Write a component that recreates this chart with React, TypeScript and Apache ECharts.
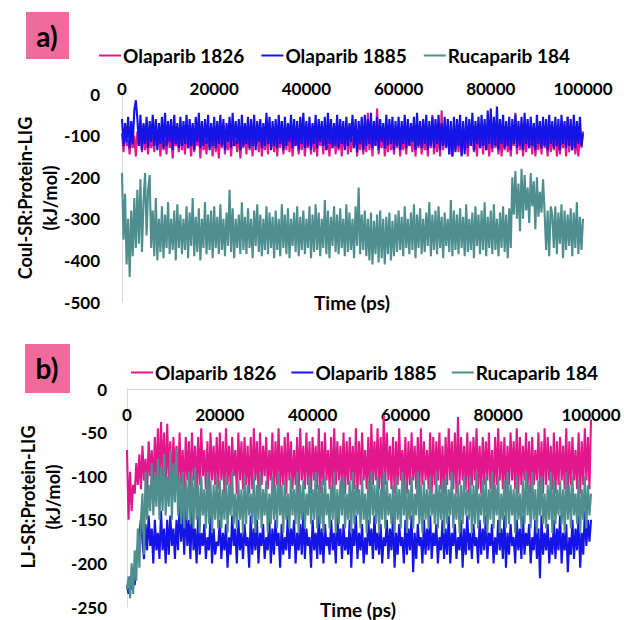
import React, { useEffect, useRef } from "react";
import * as echarts from "echarts";

const FONT = "Lato, 'Open Sans', sans-serif";
const SERIES_NAMES = ["Olaparib 1826", "Olaparib 1885", "Rucaparib 184"];
const COLORS = ["#E2178C", "#1414E6", "#4E8E8E"];
const T_END_PS = 100000;

// Panel a) Coul-SR:Protein-LIG (kJ/mol); 301 frames over 0–100000 ps
const OLA1826_COUL = [
  -95, -140, -80, -125, -110, -145, -85, -130, -100, -150, -90, -120, -105, -140, -75, -135, -95, -145, -85, -130,
  -100, -140, -80, -125, -95, -150, -85, -135, -110, -145, -75, -130, -100, -155, -90, -125, -105, -140, -80, -135,
  -95, -145, -85, -130, -105, -150, -75, -140, -100, -125, -90, -155, -80, -135, -110, -145, -85, -130, -95, -150,
  -80, -140, -100, -155, -90, -130, -75, -145, -105, -135, -85, -150, -95, -125, -110, -140, -80, -155, -100, -130,
  -90, -145, -75, -135, -105, -150, -85, -125, -95, -140, -80, -150, -100, -135, -90, -145, -70, -130, -105, -140,
  -85, -150, -95, -130, -80, -145, -100, -135, -75, -140, -90, -150, -105, -125, -85, -145, -95, -135, -80, -150,
  -100, -130, -90, -145, -75, -140, -105, -150, -85, -125, -95, -145, -80, -135, -100, -150, -90, -130, -70, -145,
  -95, -135, -85, -150, -100, -125, -80, -145, -90, -140, -105, -130, -75, -150, -95, -135, -85, -145, -100, -140,
  -45, -135, -90, -150, -80, -125, -35, -145, -100, -130, -85, -150, -95, -140, -75, -135, -105, -145, -90, -130,
  -80, -150, -100, -135, -90, -145, -75, -125, -105, -140, -85, -150, -95, -130, -80, -145, -100, -135, -90, -150,
  -85, -130, -50, -145, -95, -140, -80, -150, -40, -135, -100, -125, -90, -145, -75, -150, -105, -135, -85, -140,
  -95, -145, -80, -135, -100, -150, -90, -125, -75, -140, -105, -150, -85, -130, -95, -145, -80, -135, -100, -150,
  -90, -140, -75, -130, -100, -145, -85, -150, -95, -135, -80, -140, -105, -150, -90, -125, -45, -145, -85, -135,
  -100, -150, -80, -140, -95, -130, -85, -145, -75, -150, -100, -135, -90, -145, -80, -130, -105, -150, -85, -140,
  -95, -135, -80, -150, -100, -145, -85, -130, -90, -150, -55, -140, -95, -135, -80, -145, -100, -150, -85, -130,
  -90,
];
const OLA1885_COUL = [
  -60, -125, -70, -115, -55, -130, -65, -120, -40, -15, -60, -125, -50, -135, -70, -120, -55, -130, -65, -115,
  -50, -125, -60, -135, -70, -120, -55, -130, -45, -125, -65, -115, -60, -135, -50, -120, -70, -130, -55, -125,
  -65, -120, -50, -130, -60, -125, -70, -135, -55, -115, -45, -130, -65, -125, -60, -120, -50, -135, -70, -125,
  -55, -130, -65, -120, -50, -125, -60, -135, -70, -115, -55, -130, -45, -125, -65, -120, -60, -135, -50, -125,
  -70, -120, -55, -130, -60, -125, -50, -135, -65, -115, -60, -130, -70, -125, -45, -120, -55, -135, -65, -125,
  -60, -130, -50, -120, -65, -135, -55, -125, -70, -115, -50, -130, -60, -125, -65, -135, -55, -120, -45, -130,
  -65, -125, -55, -135, -70, -120, -50, -130, -60, -115, -65, -125, -55, -135, -45, -120, -60, -130, -70, -125,
  -50, -130, -60, -120, -65, -135, -55, -125, -70, -115, -50, -130, -60, -140, -65, -120, -55, -135, -50, -125,
  -60, -120, -45, -130, -65, -125, -55, -135, -60, -115, -70, -130, -50, -125, -60, -120, -55, -135, -65, -125,
  -55, -135, -65, -120, -50, -130, -60, -125, -70, -115, -55, -135, -45, -125, -65, -130, -60, -120, -50, -135,
  -65, -125, -55, -130, -60, -120, -50, -135, -70, -125, -55, -130, -60, -145, -65, -150, -55, -140, -60, -125,
  -50, -150, -65, -145, -55, -130, -60, -125, -45, -135, -65, -120, -55, -130, -50, -125, -60, -135, -40, -120,
  -35, -130, -55, -125, -30, -135, -60, -120, -50, -130, -65, -125, -55, -135, -60, -120, -50, -130, -65, -125,
  -55, -135, -45, -120, -60, -130, -55, -125, -70, -135, -50, -120, -65, -130, -55, -125, -60, -135, -50, -120,
  -65, -130, -55, -125, -60, -135, -50, -120, -65, -130, -55, -125, -60, -135, -50, -130, -65, -120, -55, -125,
  -95,
];
const RUC184_COUL = [
  -190, -350, -240, -410, -300, -440, -280, -390, -250, -370, -230, -360, -205, -380, -260, -190, -340, -230, -195, -370,
  -280, -390, -250, -400, -300, -380, -270, -395, -290, -370, -260, -385, -300, -375, -280, -400, -265, -370, -290, -385,
  -300, -375, -270, -395, -285, -365, -250, -390, -295, -380, -275, -400, -300, -370, -260, -385, -290, -375, -280, -395,
  -270, -370, -295, -385, -265, -375, -300, -390, -285, -365, -230, -380, -275, -395, -300, -370, -290, -385, -260, -375,
  -295, -385, -275, -370, -300, -395, -280, -365, -265, -380, -290, -390, -300, -375, -270, -385, -285, -370, -295, -395,
  -280, -375, -300, -390, -265, -370, -290, -385, -275, -395, -300, -365, -285, -380, -270, -390, -295, -375, -280, -385,
  -300, -370, -270, -395, -290, -380, -265, -375, -285, -390, -300, -370, -255, -385, -280, -395, -295, -365, -270, -380,
  -290, -385, -275, -370, -300, -390, -265, -380, -285, -375, -300, -395, -270, -365, -225, -385, -290, -375, -280, -390,
  -300, -400, -285, -410, -305, -385, -290, -405, -280, -395, -300, -410, -295, -385, -285, -400, -305, -390, -290, -380,
  -280, -375, -295, -390, -270, -370, -300, -385, -285, -375, -265, -395, -290, -370, -275, -385, -300, -380, -285, -365,
  -260, -390, -290, -375, -280, -385, -270, -370, -295, -395, -285, -365, -300, -380, -255, -390, -280, -375, -290, -385,
  -275, -370, -295, -390, -265, -380, -300, -375, -285, -395, -270, -365, -290, -385, -280, -375, -260, -390, -295, -370,
  -280, -385, -265, -375, -300, -390, -285, -370, -270, -380, -290, -395, -275, -370, -200, -290, -185, -300, -215, -330,
  -180, -300, -195, -280, -225, -310, -190, -270, -210, -325, -200, -295, -235, -285, -205, -285, -375, -280, -390, -270,
  -290, -370, -270, -385, -285, -360, -265, -395, -280, -375, -290, -365, -275, -390, -285, -370, -260, -385, -295, -375,
  -300,
];

// Panel b) LJ-SR:Protein-LIG (kJ/mol); 301 frames over 0–100000 ps
const OLA1826_LJ = [
  -70, -150, -95, -140, -110, -120, -85, -110, -75, -115, -65, -105, -80, -120, -60, -100, -70, -115, -55, -105,
  -45, -110, -38, -100, -50, -115, -40, -105, -60, -120, -55, -100, -65, -115, -50, -110, -70, -120, -55, -105,
  -60, -115, -50, -105, -65, -120, -55, -110, -45, -100, -70, -115, -60, -120, -50, -105, -65, -110, -55, -115,
  -50, -105, -60, -120, -45, -110, -65, -115, -55, -100, -70, -120, -50, -105, -60, -115, -55, -110, -65, -120,
  -55, -115, -45, -105, -60, -120, -50, -110, -65, -100, -55, -115, -70, -105, -50, -120, -60, -110, -45, -115,
  -65, -110, -55, -120, -50, -105, -60, -115, -70, -110, -55, -120, -45, -105, -65, -115, -50, -110, -60, -120,
  -55, -105, -65, -115, -45, -120, -60, -110, -50, -105, -70, -115, -55, -120, -45, -110, -60, -105, -65, -115,
  -50, -120, -60, -110, -55, -105, -65, -115, -45, -120, -60, -110, -50, -105, -70, -115, -55, -120, -40, -110,
  -60, -105, -45, -115, -55, -120, -30, -110, -50, -105, -65, -115, -55, -120, -60, -110, -45, -105, -70, -115,
  -55, -120, -60, -110, -50, -105, -65, -115, -55, -120, -45, -110, -60, -105, -70, -115, -50, -120, -55, -110,
  -60, -105, -50, -115, -65, -120, -55, -110, -45, -105, -60, -115, -50, -120, -32, -110, -55, -105, -65, -115,
  -50, -120, -60, -110, -55, -105, -45, -115, -65, -120, -55, -110, -60, -105, -50, -115, -70, -120, -55, -110,
  -45, -105, -60, -115, -55, -120, -65, -110, -50, -105, -60, -115, -45, -120, -55, -110, -65, -105, -50, -115,
  -60, -120, -55, -110, -70, -105, -50, -115, -60, -120, -45, -110, -55, -105, -65, -115, -50, -120, -60, -110,
  -55, -105, -65, -115, -45, -120, -60, -110, -55, -105, -70, -115, -50, -120, -60, -110, -45, -105, -55, -115,
  -35,
];
const OLA1885_LJ = [
  -225, -235, -215, -230, -205, -225, -195, -180, -165, -150, -175, -195, -155, -185, -145, -180, -160, -200, -150, -185,
  -165, -195, -140, -185, -160, -200, -150, -190, -145, -180, -160, -195, -150, -185, -130, -175, -140, -190, -135, -180,
  -150, -195, -135, -185, -160, -200, -145, -190, -165, -180, -155, -195, -170, -185, -145, -200, -160, -190, -175, -180,
  -150, -195, -165, -185, -155, -205, -170, -190, -145, -180, -160, -200, -150, -185, -165, -195, -155, -180, -170, -205,
  -145, -190, -160, -185, -150, -200, -165, -180, -155, -195, -170, -185, -145, -200, -160, -190, -150, -180, -165, -205,
  -155, -190, -170, -185, -145, -195, -160, -180, -150, -200, -165, -185, -155, -190, -140, -195, -160, -180, -170, -205,
  -150, -185, -165, -195, -145, -190, -160, -200, -155, -180, -170, -190, -150, -185, -165, -200, -145, -180, -160, -195,
  -155, -185, -170, -190, -150, -205, -160, -180, -145, -195, -165, -185, -155, -200, -170, -190, -150, -180, -160, -195,
  -145, -185, -165, -190, -155, -200, -170, -180, -150, -195, -160, -185, -145, -205, -165, -190, -155, -180, -170, -200,
  -150, -190, -160, -185, -145, -210, -165, -195, -155, -180, -170, -200, -150, -190, -160, -185, -145, -195, -165, -180,
  -155, -200, -170, -185, -150, -195, -160, -190, -145, -200, -165, -180, -155, -195, -170, -185, -150, -205, -160, -190,
  -145, -185, -165, -195, -155, -180, -170, -200, -150, -190, -160, -185, -145, -195, -165, -180, -155, -200, -170, -190,
  -150, -185, -160, -195, -145, -205, -165, -190, -155, -180, -170, -200, -150, -185, -160, -195, -145, -190, -165, -180,
  -155, -200, -170, -185, -150, -195, -160, -217, -145, -190, -165, -185, -155, -200, -170, -190, -150, -195, -160, -185,
  -145, -200, -165, -185, -155, -210, -170, -190, -150, -195, -160, -185, -145, -205, -165, -190, -140, -180, -150, -175,
  -150,
];
const RUC184_LJ = [
  -230, -215, -240, -200, -235, -185, -220, -160, -205, -150, -120, -190, -95, -150, -110, -140, -85, -145, -100, -135,
  -80, -150, -90, -140, -75, -145, -100, -135, -70, -150, -85, -130, -68, -145, -100, -155, -95, -160, -105, -150,
  -95, -155, -100, -160, -90, -150, -110, -165, -100, -145, -115, -160, -95, -155, -105, -165, -110, -150, -100, -160,
  -105, -160, -115, -150, -100, -165, -110, -145, -95, -155, -120, -160, -105, -150, -115, -165, -100, -155, -110, -145,
  -120, -155, -100, -165, -110, -150, -95, -160, -115, -145, -105, -165, -120, -155, -100, -150, -110, -160, -95, -145,
  -110, -165, -105, -150, -120, -160, -100, -145, -115, -155, -95, -165, -110, -150, -105, -160, -120, -145, -100, -155,
  -115, -150, -95, -160, -110, -155, -105, -165, -100, -145, -120, -160, -110, -150, -95, -165, -115, -155, -105, -145,
  -100, -160, -120, -150, -105, -165, -95, -155, -110, -145, -115, -160, -100, -150, -120, -165, -105, -155, -95, -145,
  -110, -155, -100, -165, -115, -150, -95, -160, -105, -145, -120, -155, -110, -165, -100, -150, -115, -160, -95, -145,
  -105, -165, -115, -150, -100, -160, -120, -145, -95, -155, -110, -165, -105, -150, -115, -160, -100, -145, -120, -155,
  -95, -160, -110, -150, -105, -165, -100, -155, -115, -145, -95, -160, -120, -150, -105, -165, -110, -155, -100, -145,
  -115, -150, -100, -165, -110, -155, -95, -160, -120, -145, -105, -155, -100, -165, -115, -150, -95, -160, -110, -145,
  -100, -165, -120, -150, -105, -160, -95, -155, -110, -145, -115, -165, -100, -150, -120, -160, -105, -155, -95, -145,
  -110, -160, -95, -150, -115, -165, -105, -145, -100, -155, -120, -160, -110, -150, -95, -165, -105, -155, -115, -145,
  -105, -155, -115, -165, -95, -150, -110, -160, -100, -145, -120, -155, -105, -165, -115, -150, -100, -160, -110, -145,
  -120,
];

const toPoints = (vals: number[]) =>
  vals.map((v, i) => [(i * T_END_PS) / (vals.length - 1), v]);

const labelStyle = {
  fontFamily: FONT,
  fontWeight: "bold" as const,
  fontSize: 17,
  color: "#000",
  formatter: (v: number) => String(v),
};

export default function App() {
  const ref = useRef<HTMLDivElement>(null);
  useEffect(() => {
    if (!ref.current) return;
    const chart = echarts.init(ref.current, null, { renderer: "svg" });
    const mk = (name: string, idx: number, vals: number[], color: string) => ({
      type: "line",
      name,
      xAxisIndex: idx,
      yAxisIndex: idx,
      data: toPoints(vals),
      showSymbol: false,
      symbol: "none",
      lineStyle: { width: 2.1, color },
      itemStyle: { color },
      emphasis: { disabled: true },
    });
    const legendBase = {
      data: SERIES_NAMES,
      icon: "rect",
      itemWidth: 22,
      itemHeight: 2,
      selectedMode: false,
      textStyle: { fontFamily: FONT, fontWeight: "bold", fontSize: 19, color: "#000", padding: [0, 0, 0, -3] },
    };
    const text = (t: string, x: number, y: number, size: number, rot = 0) => ({
      type: "text",
      x,
      y,
      rotation: rot,
      style: {
        text: t,
        font: `bold ${size}px ${FONT}`,
        fill: "#000",
        align: "center",
        verticalAlign: "middle",
      },
    });
    chart.setOption({
      animation: false,
      backgroundColor: "#fff",
      grid: [
        { left: 122, top: 94, width: 461, height: 208 },
        { left: 127, top: 389, width: 464, height: 218 },
      ],
      legend: [
        { ...legendBase, left: 94, top: 41, itemGap: 17 },
        { ...legendBase, left: 126, top: 358, itemGap: 15 },
      ],
      xAxis: [
        {
          gridIndex: 0,
          type: "value",
          position: "top",
          min: 0,
          max: 100000,
          interval: 20000,
          axisLine: { show: false, onZero: false },
          axisTick: { show: false },
          splitLine: { show: false },
          axisLabel: { ...labelStyle, margin: -3 },
        },
        {
          gridIndex: 1,
          type: "value",
          position: "top",
          min: 0,
          max: 100000,
          interval: 20000,
          axisLine: { show: true, onZero: false, lineStyle: { color: "#D9D9D9", width: 1 } },
          axisTick: { show: false },
          splitLine: { show: false },
          axisLabel: { ...labelStyle, inside: true, margin: 17 },
        },
      ],
      yAxis: [
        {
          gridIndex: 0,
          type: "value",
          min: -500,
          max: 0,
          interval: 100,
          axisLine: { show: true, onZero: false, lineStyle: { color: "#D9D9D9", width: 1 } },
          axisTick: { show: false },
          splitLine: { show: false },
          axisLabel: { ...labelStyle, margin: 22 },
        },
        {
          gridIndex: 1,
          type: "value",
          min: -250,
          max: 0,
          interval: 50,
          axisLine: { show: true, onZero: false, lineStyle: { color: "#D9D9D9", width: 1 } },
          axisTick: { show: false },
          splitLine: { show: false },
          axisLabel: { ...labelStyle, margin: 20 },
        },
      ],
      series: [
        mk(SERIES_NAMES[0], 0, OLA1826_COUL, COLORS[0]),
        mk(SERIES_NAMES[1], 0, OLA1885_COUL, COLORS[1]),
        mk(SERIES_NAMES[2], 0, RUC184_COUL, COLORS[2]),
        mk(SERIES_NAMES[0], 1, OLA1826_LJ, COLORS[0]),
        mk(SERIES_NAMES[1], 1, OLA1885_LJ, COLORS[1]),
        mk(SERIES_NAMES[2], 1, RUC184_LJ, COLORS[2]),
      ],
      graphic: [
        { type: "rect", left: 26, top: 12, shape: { width: 43, height: 47 }, style: { fill: "#F06A9C" } },
        text("a)", 47, 36, 28),
        { type: "rect", left: 25, top: 344, shape: { width: 45, height: 49 }, style: { fill: "#F06A9C" } },
        text("b)", 47, 368, 28),
        text("Coul-SR:Protein-LIG", 25, 198, 18, Math.PI / 2),
        text("(kJ/mol)", 50, 198, 18, Math.PI / 2),
        text("LJ-SR:Protein-LIG", 28, 497, 18, Math.PI / 2),
        text("(kJ/mol)", 53, 497, 18, Math.PI / 2),
        text("Time (ps)", 352, 302, 19),
        text("Time (ps)", 358, 609, 19),
      ],
    });
    return () => chart.dispose();
  }, []);
  return (
    <div
      ref={ref}
      style={{ position: "absolute", left: 0, top: 0, width: 624, height: 620 }}
    />
  );
}
